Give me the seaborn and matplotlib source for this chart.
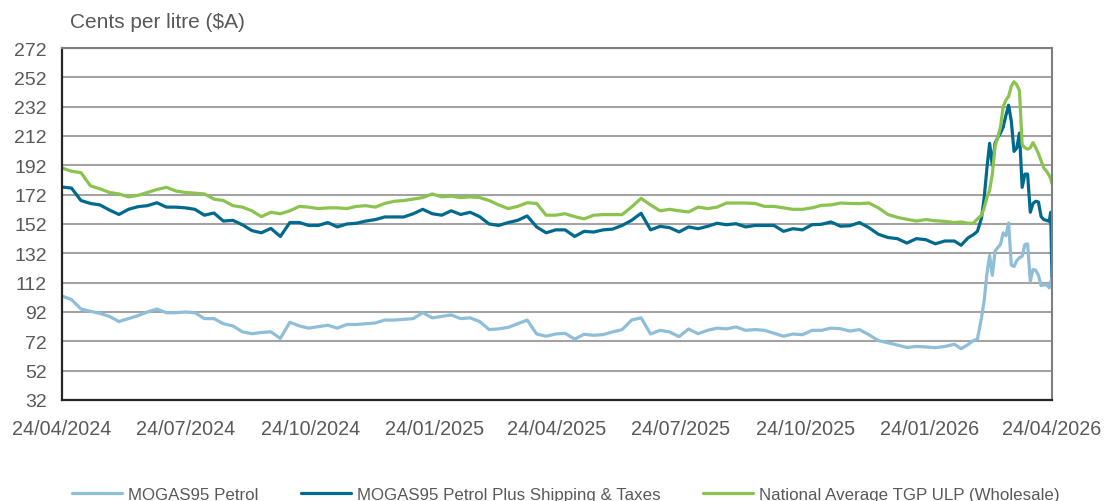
import pandas as pd
import numpy as np
import matplotlib
matplotlib.use("Agg")
import matplotlib.pyplot as plt
import matplotlib.dates as mdates
import seaborn as sns

# day offsets from 24/04/2024 (weekly, then denser through the 2026 spike)
days = list(range(0, 652, 7)) + [658, 663, 668, 672, 675, 678, 680, 682, 684, 686, 688, 690,
                                 692, 694, 696, 698, 700, 702, 704, 706, 708, 710, 712, 714,
                                 716, 718, 720, 722, 724, 726, 728, 729, 730]

mogas = [102.9, 100.5, 94, 92.5, 91, 89, 85.5, 87.5, 89.5, 92,
         94, 91.5, 91.5, 92, 91.5, 87.5, 87.5, 84, 82.5, 78.5,
         77.2, 78, 78.5, 74, 85, 82.5,
         81, 82, 83, 81, 83.5, 83.5, 84, 84.5, 86.5, 86.5,
         87, 87.5, 91.5, 88, 89, 90, 87.5, 88, 85.5, 80,
         80.5, 81.5, 84, 86.5, 77, 75.5,
         77, 77.5, 73.5, 76.8, 76.1, 76.6, 78.4, 80, 86.5, 88,
         77, 79.5, 78.4, 75.2, 80.4, 77.2, 79.5, 81, 80.5, 81.8,
         79.5, 80, 79.5, 77.5, 75.5, 77,
         76.5, 79.5, 79.5, 81, 80.6, 79, 80, 76.5, 72.5, 71,
         69.5, 67.8, 68.5, 68.2, 67.7, 68.5,
         70, 67, 69.7, 72.5, 73.5, 88, 100, 118, 130.5, 117, 133.4, 136,
         138, 146, 144, 152.7, 124, 123, 127, 129, 130, 138, 138.4, 113,
         121, 120.5, 117, 110, 110.5, 110.6, 108.5, 112, 116]

mogas_plus = [177.2, 176.5, 168, 166, 165, 161.5, 158.5, 162, 163.8, 164.5,
              166.5, 163.5, 163.5, 163, 162, 158, 159.5, 154, 154.5, 151.5,
              147.5, 146, 149, 143.5, 153, 153,
              151, 151, 153, 150, 152, 152.5, 154, 155, 156.8, 156.8,
              156.8, 159, 162, 159, 158, 161, 158.5, 160, 157, 152,
              151, 153, 154.5, 157.5, 150, 146,
              148, 148, 143.5, 147, 146.5, 148, 148.5, 151, 154.5, 159.3,
              148, 150.4, 149.5, 146.6, 150, 148.8, 150.4, 152.5, 151.5, 152.2,
              150, 151, 151, 151, 147, 148.8,
              148, 151.5, 151.8, 153.4, 150.5, 150.8, 153, 149.5, 145, 142.8,
              142, 139, 142, 141.3, 138.5, 140.4,
              140.4, 137.5, 142.5, 144.7, 147, 156, 170, 190, 207, 192, 207, 211,
              214, 218, 226, 233, 222, 201.5, 203.8, 214, 177, 186, 186, 160,
              166, 167.5, 167, 157, 155, 154.5, 153.8, 160, 116]

tgp = [190.2, 188, 187, 178, 176, 173.5, 172.5, 170.5, 171.5, 173.5,
       175.5, 177, 174.5, 173.5, 173, 172.5, 169, 168, 164.5, 163.5,
       161, 157, 160, 159, 161, 164,
       163.5, 162.5, 163, 163, 162.5, 164, 164.5, 163.5, 166, 167.5,
       168, 169, 170, 172.5, 170.5, 171, 170, 170.5, 170, 168,
       165, 162.5, 164, 166.5, 166, 158,
       158, 159, 157, 155.5, 158, 158.4, 158.4, 158.4, 163.6, 169.5,
       165, 161, 162, 161, 160.2, 163.5, 162.5, 163.5, 166.3, 166.3,
       166.3, 166, 164, 164, 163, 162,
       162, 163, 164.7, 165, 166.3, 166, 165.9, 166.3, 163, 158.5,
       156.5, 155.2, 154, 155, 154.2, 153.8,
       153, 153.4, 152.5, 152.5, 155.5, 158, 163, 170, 175, 186, 205, 211,
       218, 232, 236.5, 239, 246, 249, 247, 243, 206, 204, 203, 204,
       207.5, 204, 200, 195, 190, 188, 185, 183, 179.5]

series_names = ["MOGAS95 Petrol", "MOGAS95 Petrol Plus Shipping & Taxes",
                "National Average TGP ULP (Wholesale)"]
colors = ["#8EBED8", "#006A8E", "#8BC34F"]
y_ticks = list(range(32, 273, 20))

dates = pd.Timestamp("2024-04-24") + pd.to_timedelta(days, unit="D")
df = pd.DataFrame({"date": dates, series_names[0]: mogas,
                   series_names[1]: mogas_plus, series_names[2]: tgp})
long = df.melt(id_vars="date", var_name="series", value_name="cpl")

sns.set_style("white")
plt.rcParams["font.family"] = ["Liberation Sans", "DejaVu Sans"]
txt = "#595959"

fig = plt.figure(figsize=(11.05, 5.02), dpi=100)
ax = fig.add_axes([62 / 1105, 1 - 401 / 502, 990 / 1105, 352 / 502])

sns.lineplot(data=long, x="date", y="cpl", hue="series", hue_order=series_names,
             palette=colors, linewidth=2.3, sort=False, ax=ax)

ax.set_ylim(32, 272)
ax.set_yticks(y_ticks)
ax.set_xlim(pd.Timestamp("2024-04-24"), pd.Timestamp("2026-04-24"))
ax.xaxis.set_major_locator(mdates.MonthLocator(bymonth=[1, 4, 7, 10], bymonthday=24))
ax.xaxis.set_minor_locator(mdates.MonthLocator(bymonthday=24))
ax.xaxis.set_major_formatter(mdates.DateFormatter("%d/%m/%Y"))
ax.set_xlabel("")
ax.set_ylabel("")

ax.yaxis.grid(True, color="#A3A3A3", linewidth=1.5)
ax.set_axisbelow(True)
for s in ["left", "bottom"]:
    ax.spines[s].set_color("#262626")
    ax.spines[s].set_linewidth(1.6)
for s in ["top", "right"]:
    ax.spines[s].set_color("#7F7F7F")
    ax.spines[s].set_linewidth(1.5)

ax.tick_params(axis="y", length=0, pad=11, labelsize=14, labelcolor=txt)
ax.tick_params(axis="x", which="major", direction="in", length=6, width=1.4,
               color="#404040", pad=13.5, labelsize=14.2, labelcolor=txt)
ax.tick_params(axis="x", which="minor", direction="in", length=3.5, width=1.2,
               color="#404040")

fig.text(70 / 1105, 1 - 22 / 502, "Cents per litre ($A)", ha="left", va="center",
         fontsize=15, color=txt)

handles, labels = ax.get_legend_handles_labels()
ax.get_legend().remove()
fig.legend(handles, labels, loc="center", bbox_to_anchor=(0.512, 0.013), ncol=3,
           frameon=False, fontsize=12.2, labelcolor=txt, handlelength=2.95,
           handletextpad=0.35, columnspacing=2.5)

fig.savefig("out.png", dpi=100)
